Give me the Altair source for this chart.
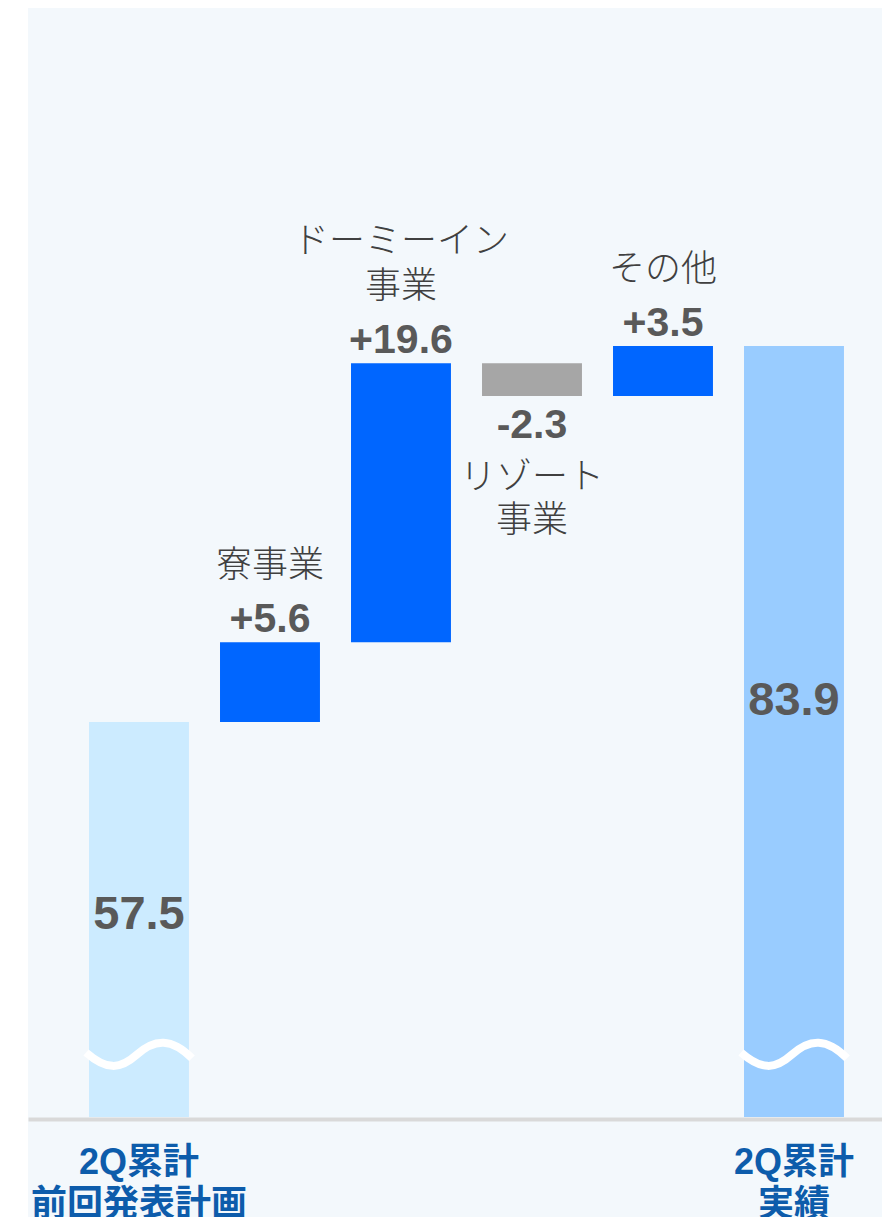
import altair as alt
import pandas as pd

# ---- data ----
keys = ["前回計画", "寮", "ドーミーイン", "リゾート", "その他", "実績"]
kinds = ["plan", "up", "up", "down", "up", "actual"]
values = [57.5, 5.6, 19.6, -2.3, 3.5, 83.9]
cat_labels = ["", "寮事業", "ドーミーイン\n事業", "リゾート\n事業", "その他", ""]
axis_labels = [["2Q累計", "前回発表計画"], [], [], [], [], ["2Q累計", "実績"]]

rows = []
running = 0.0
for k, kind, v, lab in zip(keys, kinds, values, cat_labels):
    if kind in ("plan", "actual"):
        start, end = 0.0, v
        running = v
        text = f"{v:.1f}"
    else:
        start = running
        end = round(running + v, 1)
        running = end
        text = f"{v:+.1f}"
    lines = lab.split("\n")
    rows.append(dict(key=k, kind=kind, start=start, end=end,
                     top=max(start, end), bottom=min(start, end),
                     text=text, cat=lab,
                     last_line=lines[-1],
                     prev_line=lines[-2] if len(lines) > 1 else ""))
df = pd.DataFrame(rows)

# ---- styling ----
PANEL = "#F3F8FC"
NUM_FONT = "Liberation Sans"
JP_FONT = "Noto Sans CJK JP"
W, H = 854, 1109
LH = 45

# axis label expression built from the lists
expr = "''"
for k, lab in zip(reversed(keys), reversed(axis_labels)):
    if lab:
        arr = "[" + ",".join(f"'{s}'" for s in lab) + "]"
        expr = f"datum.value == '{k}' ? {arr} : ({expr})"

x = alt.X(
    "key:N", sort=keys,
    scale=alt.Scale(paddingInner=0.237, paddingOuter=0.378, align=0.616, round=False),
    axis=alt.Axis(
        title=None, labelExpr=expr, labelAngle=0, ticks=False,
        domain=True, domainColor="#D9D9D9", domainWidth=4, offset=2,
        labelPadding=26, labelFont=f"{NUM_FONT}, {JP_FONT}", labelFontSize=36,
        labelFontWeight="bold", labelColor="#0D5CAB", labelLineHeight=42,
        labelLimit=600, labelOverlap=False, labelBound=False,
    ),
)
yscale = alt.Scale(domain=[29.76, 107.64], nice=False, zero=False)

base = alt.Chart(df).encode(x=x)

bars = base.mark_bar(clip=True).encode(
    y=alt.Y("start:Q", scale=yscale, axis=None),
    y2="end:Q",
    color=alt.Color("kind:N", legend=None,
                    scale=alt.Scale(domain=["plan", "up", "down", "actual"],
                                    range=["#CCEBFF", "#0066FF", "#A6A6A6", "#99CCFF"])),
)

wave_path = "M -1 -0.03 C -0.62 0.30, -0.36 0.30, -0.05 0.02 C 0.30 -0.30, 0.62 -0.30, 1 0.08"
breaks = base.mark_point(
    shape=wave_path, size=106 * 106, filled=False, stroke="white",
    strokeWidth=8, opacity=1, strokeCap="butt",
).encode(y=alt.value(1046)).transform_filter("datum.kind == 'plan' || datum.kind == 'actual'")

val_style = dict(font=NUM_FONT, fontWeight="bold", color="#595959")
val_up = base.mark_text(fontSize=41, baseline="middle", dy=-22, **val_style).encode(
    y=alt.Y("top:Q", scale=yscale), text="text:N"
).transform_filter("datum.kind == 'up'")
val_down = base.mark_text(fontSize=41, baseline="middle", dy=30, **val_style).encode(
    y=alt.Y("bottom:Q", scale=yscale), text="text:N"
).transform_filter("datum.kind == 'down'")
tot_plan = base.mark_text(fontSize=47, baseline="middle", dy=193, **val_style).encode(
    y=alt.Y("top:Q", scale=yscale), text="text:N"
).transform_filter("datum.kind == 'plan'")
tot_act = base.mark_text(fontSize=47, baseline="middle", dy=355, **val_style).encode(
    y=alt.Y("top:Q", scale=yscale), text="text:N"
).transform_filter("datum.kind == 'actual'")

cat_style = dict(font=JP_FONT, fontWeight=300, fontSize=36, color="#404040")
cat_up_last = base.mark_text(baseline="bottom", dy=-57, **cat_style).encode(
    y=alt.Y("top:Q", scale=yscale), text="last_line:N"
).transform_filter("datum.kind == 'up'")
cat_up_prev = base.mark_text(baseline="bottom", dy=-57 - LH, **cat_style).encode(
    y=alt.Y("top:Q", scale=yscale), text="prev_line:N"
).transform_filter("datum.kind == 'up' && datum.prev_line != ''")
cat_down = base.mark_text(baseline="top", dy=65, lineBreak="\n", lineHeight=LH - 2,
                          **cat_style).encode(
    y=alt.Y("bottom:Q", scale=yscale), text="cat:N"
).transform_filter("datum.kind == 'down'")

strip = alt.Chart(pd.DataFrame({"k": [0]})).mark_rect(color="white").encode(
    x=alt.value(-20), x2=alt.value(0), y=alt.value(-10), y2=alt.value(1400)
)

chart = alt.layer(
    strip, bars, breaks, val_up, val_down, tot_plan, tot_act,
    cat_up_last, cat_up_prev, cat_down
).properties(
    width=W, height=H,
    padding={"left": 20, "top": 0, "right": 0, "bottom": 100},
    autosize="none",
    background=PANEL,
).configure_view(stroke=None)

chart.save("out.html", embed_options={"renderer": "svg", "actions": False})
